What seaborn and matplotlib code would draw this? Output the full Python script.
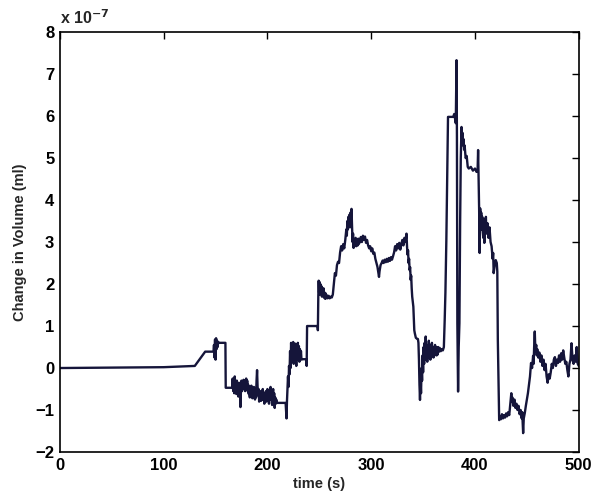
import numpy as np
import pandas as pd
import matplotlib
matplotlib.use("Agg")
import matplotlib.pyplot as plt
import seaborn as sns

# values, volume in units of 1e-7 ml
quiet_t = [0, 50, 100, 130, 140, 148, 148.5, 149, 149.5, 150, 150.5, 151, 151.5, 152, 152.5, 153, 159.5]
quiet_v = [0, 0.01, 0.02, 0.05, 0.39, 0.39, 0.55, 0.25, 0.68, 0.2, 0.71, 0.45, 0.65, 0.5, 0.62, 0.6, 0.6]

dip_t = [159.8, 166,
         166.5, 167, 167.5, 168, 168.5, 169, 169.5, 170, 170.5, 171, 171.5, 172, 172.5, 173, 173.5, 174,
         174.5, 175, 175.5, 176, 176.5, 177, 177.5, 178, 178.5, 179, 179.5, 180, 180.5, 181, 181.5, 182,
         182.5, 183, 183.5, 184, 184.5, 185, 185.5, 186, 186.5, 187, 187.5, 188, 188.5, 189, 189.5, 190,
         190.5, 191, 191.5, 192, 192.5, 193, 193.5, 194, 194.5, 195, 195.5, 196, 196.5, 197, 197.5, 198,
         198.5, 199, 199.5, 200, 200.5, 201, 201.5, 202, 202.5, 203, 203.5, 204, 204.5, 205, 205.5, 206,
         206.5, 207, 207.5, 208, 208.5, 209, 217.5, 218, 218.4]
dip_v = [-0.47, -0.47,
         -0.25, -0.55, -0.3, -0.6, -0.2, -0.5, -0.35, -0.62, -0.3, -0.55, -0.4, -0.68, -0.35, -0.6, -0.45, -0.93,
         -0.5, -0.3, -0.55, -0.35, -0.5, -0.28, -0.45, -0.3, -0.55, -0.38, -0.25, -0.48, -0.3, -0.55, -0.4, -0.62,
         -0.45, -0.7, -0.5, -0.65, -0.42, -0.6, -0.72, -0.5, -0.68, -0.45, -0.6, -0.75, -0.55, -0.7, -0.3, -0.05,
         -0.45, -0.65, -0.5, -0.8, -0.6, -0.72, -0.55, -0.78, -0.6, -0.7, -0.5, -0.75, -0.62, -0.85, -0.6, -0.72,
         -0.55, -0.8, -0.65, -0.5, -0.75, -0.6, -0.85, -0.55, -0.7, -0.45, -0.75, -0.6, -0.88, -0.65, -0.5, -0.8,
         -0.6, -0.95, -0.7, -0.85, -0.75, -0.83, -0.83, -1.05, -1.2]

climb_t = [218.8, 219.3, 219.8, 220.3, 220.8, 221.3, 221.8, 222.3, 222.8, 223.3, 223.8, 224.3, 224.8, 225.3,
           225.8, 226.3, 226.8, 227.3, 227.8, 228.3, 228.8, 229.3, 229.8, 230.3, 230.8, 231.3, 231.8, 232.3,
           232.8, 233.2, 237.6, 237.8, 238.2, 248.3, 248.6, 249, 249.4, 249.8, 250.2, 250.6, 251, 251.5, 252,
           252.5, 253, 253.5, 254, 254.5, 255, 255.5, 256, 256.5, 257, 258, 259, 260, 261, 262]
climb_v = [-0.8, -0.5, -0.2, -0.45, 0.05, -0.15, 0.4, 0.0, 0.6, 0.15, 0.55, 0.2, 0.62, 0.1,
           0.45, 0.25, 0.58, 0.3, 0.05, 0.5, 0.2, 0.6, 0.3, 0.52, 0.15, 0.45, 0.25, 0.4,
           0.2, 0.21, 0.21, 0.05, 1.0, 1.0, 0.9, 1.7, 2.08, 1.8, 2.05, 1.75, 2.0, 1.78, 1.95,
           1.7, 1.85, 1.72, 1.9, 1.68, 1.8, 1.65, 1.78, 1.66, 1.74, 1.66, 1.72, 1.66, 1.7, 1.68]

hump_t = [263, 264, 265, 266, 267, 268, 269, 270, 271, 272, 273, 274, 275, 276, 276.5, 277, 277.5, 278,
          278.5, 279, 279.5, 280, 280.5, 281, 281.5, 282, 282.5, 283, 283.5, 284, 285, 285.5, 286, 287,
          287.5, 288, 289, 290, 291, 292, 293, 294, 295, 296, 297, 298, 299, 300, 301, 302, 303, 304, 305,
          306, 307, 307.5, 308, 309, 310, 311, 312, 313, 314, 315, 316, 317, 318, 319, 320, 321, 322, 323,
          324, 325, 326, 327, 328, 329, 330, 331, 332, 333, 334]
hump_v = [1.75, 2.0, 2.26, 2.2, 2.45, 2.53, 2.5, 2.75, 2.9, 2.8, 2.95, 2.85, 3.05, 3.3, 3.15, 3.5, 3.3, 3.6,
          3.4, 3.65, 3.35, 3.7, 3.5, 3.79, 3.4, 3.0, 3.2, 2.86, 3.05, 2.95, 3.1, 2.9, 3.05, 2.92,
          3.08, 2.95, 3.0, 3.12, 3.0, 3.15, 3.05, 3.13, 2.98, 3.05, 2.92, 2.85, 2.9, 2.78, 2.85, 2.72, 2.75, 2.6, 2.5,
          2.41, 2.25, 2.17, 2.3, 2.45, 2.5, 2.56, 2.5, 2.58, 2.52, 2.6, 2.53, 2.62, 2.55, 2.64, 2.58, 2.66, 2.75, 2.9,
          2.8, 2.95, 2.85, 2.98, 2.82, 2.95, 3.05, 2.92, 3.1, 3.0, 3.2]

drop_t = [334.5, 335, 335.5, 336, 336.5, 337, 337.5, 338, 338.5, 339, 339.5, 340, 340.6, 341, 341.5, 342,
          343, 344, 345, 345.5, 346, 346.5, 347, 347.5, 348, 348.5, 349, 349.5, 350, 350.5, 351, 351.5,
          352, 352.5, 353, 353.5, 354, 354.5, 355, 355.5, 356, 356.5, 357, 357.5, 358, 358.5, 359, 359.5,
          360, 360.5, 361, 361.5, 362, 362.5, 363, 363.5, 364, 364.5, 365, 366, 367, 368, 369, 370,
          370.8, 371.5, 372.4, 373.2, 374]
drop_v = [2.9, 2.7, 2.8, 2.5, 2.6, 2.33, 2.4, 2.1, 2.2, 1.9, 1.7, 1.6, 1.46, 1.2, 0.9, 0.83,
          0.72, 0.7, 0.69, 0.6, 0.2, -0.4, -0.76, -0.3, -0.6, 0.0, -0.3, 0.3, -0.1, 0.5, 0.1, 0.6,
          0.2, 0.75, 0.3, 0.55, 0.15, 0.5, 0.25, 0.65, 0.3, 0.5, 0.2, 0.55, 0.35, 0.6, 0.3, 0.5,
          0.25, 0.45, 0.3, 0.55, 0.35, 0.5, 0.3, 0.48, 0.32, 0.5, 0.38, 0.48, 0.4, 0.45, 0.42, 0.5,
          1.14, 1.8, 3.05, 4.5, 5.98]

spike_t = [375, 379, 380, 381, 381.5, 382.2, 382.6, 383, 383.7, 384.3, 385, 385.7, 386.3, 387, 387.5, 388,
           388.5, 389, 389.5, 390, 391, 392, 393, 394, 396, 398, 400, 401.5, 402.5, 403, 403.5, 404, 404.5,
           405, 405.5, 406, 406.5, 407, 407.5, 408, 408.5, 409, 409.5, 410, 410.5, 411, 412, 413, 414, 415,
           416, 417, 417.5, 418, 419, 420, 421, 421.5, 422, 423.3]
spike_v = [5.98, 5.98, 6.05, 5.9, 5.83, 7.33, 5.5, 1.07, -0.56, 0.5, 1.07, 3.5, 5.0, 5.74, 5.4, 5.6,
           5.3, 5.45, 5.2, 5.3, 5.0, 5.05, 4.79, 4.75, 4.79, 4.7, 4.75, 4.67, 4.7, 5.19, 4.5, 3.76, 2.74,
           3.8, 3.4, 3.7, 3.3, 3.6, 3.25, 3.1, 3.5, 2.98, 3.55, 3.3, 3.6, 3.2, 3.45, 3.1, 3.35, 3.0,
           2.9, 2.6, 2.74, 2.26, 2.45, 2.57, 2.5, 2.3, 0.67, -1.24]

tail_t = [424, 425, 426, 427, 428, 429, 430, 431, 432, 433, 434, 435, 435.5, 436, 437, 438, 439, 440, 441,
          442, 443, 444, 445, 445.5, 446, 446.4, 447, 448, 449, 450, 451, 452, 453, 454, 455, 456, 456.5,
          457, 457.6, 458.2, 459, 459.5, 460, 461, 462, 463, 464, 465, 466, 467, 468, 469, 470, 471, 472,
          473, 474, 475, 476, 477, 478, 479, 480, 481, 482, 483, 484, 485, 486, 487, 488, 489, 490, 491,
          492, 493, 494, 495, 496, 497, 498, 499, 500]
tail_v = [-1.15, -1.22, -1.1, -1.2, -1.12, -1.18, -1.08, -1.15, -1.05, -1.12, -0.85, -0.6, -0.8, -0.7, -0.9,
          -0.75, -0.95, -0.85, -1.0, -0.9, -1.1, -1.0, -1.2, -1.05, -1.3, -1.55, -1.2, -1.07, -0.9, -0.75, -0.6,
          -0.4, -0.2, 0.12, 0.0, 0.29, 0.1, 0.5, 0.87, 0.4, 0.55, 0.3, 0.45, 0.25, 0.37, 0.15, 0.3, 0.05, 0.2,
          -0.05, 0.1, -0.2, -0.35, -0.15, -0.25, -0.1, 0.1, 0.0, 0.2, 0.26, 0.05, 0.2, 0.12, 0.3, 0.15, 0.35,
          0.2, 0.42, 0.25, 0.1, 0.15, -0.05, -0.2, 0.1, 0.2, 0.59, 0.2, 0.1, 0.3, 0.15, 0.5, 0.1, 0.05]

x_ticks = [0, 100, 200, 300, 400, 500]
y_ticks = [-2, -1, 0, 1, 2, 3, 4, 5, 6, 7, 8]

time_s = quiet_t + dip_t + climb_t + hump_t + drop_t + spike_t + tail_t
volume = quiet_v + dip_v + climb_v + hump_v + drop_v + spike_v + tail_v
df = pd.DataFrame({"time": time_s, "volume": volume})

sns.set_style("white")
plt.rcParams["font.family"] = ["Liberation Sans", "DejaVu Sans"]

fig = plt.figure(figsize=(5.93, 4.97), dpi=100)
ax = fig.add_axes([0.101, 0.0905, 0.875, 0.845])

sns.lineplot(data=df, x="time", y="volume", ax=ax, color="#15153a", linewidth=1.7,
             estimator=None, sort=False)

ax.set_xlim(0, 500)
ax.set_ylim(-2, 8)
ax.set_xticks(x_ticks)
ax.set_yticks(y_ticks)
ax.set_xticklabels([str(t) for t in x_ticks], fontsize=12, fontweight="bold")
ax.set_yticklabels([str(t).replace("-", "\u2212") for t in y_ticks], fontsize=12, fontweight="bold")
ax.tick_params(direction="in", length=5, width=1, top=True, right=True, pad=4, colors="black")
for s in ax.spines.values():
    s.set_visible(True)
    s.set_color("black")
    s.set_linewidth(1.2)

ax.set_xlabel("time (s)", fontsize=10.5, fontweight="bold", labelpad=3)
ax.set_ylabel("Change in Volume (ml)", fontsize=10.5, fontweight="bold", labelpad=6)
ax.text(0.0, 1.012, r"x 10$^{\mathbf{-7}}$", transform=ax.transAxes, fontsize=11.5,
        fontweight="bold", ha="left", va="bottom")

fig.savefig("out.png", dpi=100)
